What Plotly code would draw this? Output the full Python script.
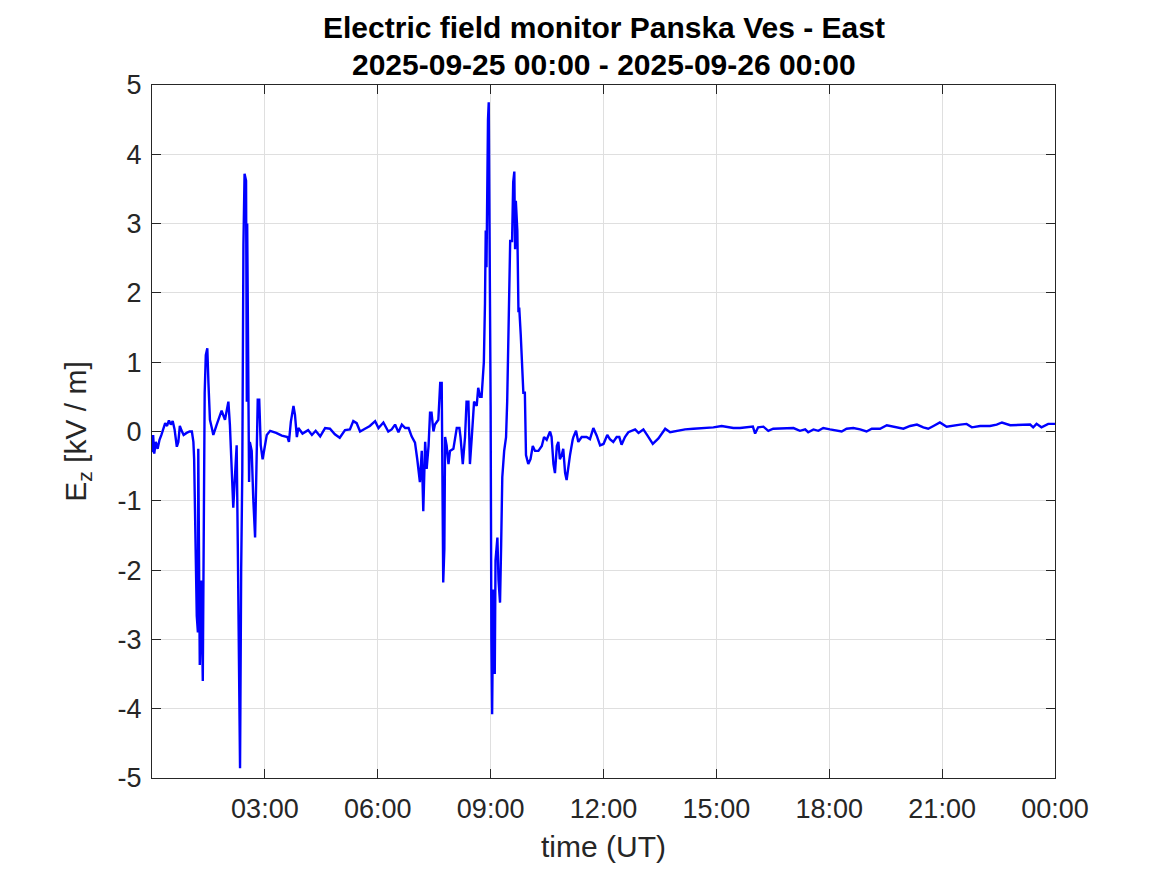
import pandas as pd
import plotly.graph_objects as go

# ---- data (hours since 2025-09-25 00:00 UT, Ez in kV/m) ----
hours = [
    0.00, 0.03, 0.06, 0.10, 0.15, 0.20, 0.25, 0.30, 0.35, 0.40, 0.45, 0.50, 0.55, 0.60,
    0.66, 0.70, 0.74, 0.78, 0.84, 0.92, 1.00, 1.06, 1.10, 1.12, 1.14, 1.16, 1.19, 1.22,
    1.23, 1.25, 1.27, 1.31, 1.35, 1.38, 1.40, 1.43, 1.47, 1.50, 1.54, 1.59, 1.63, 1.72,
    1.85, 1.94, 2.03, 2.07, 2.12, 2.16, 2.21, 2.25, 2.28, 2.30, 2.34, 2.37, 2.40, 2.43,
    2.46, 2.50, 2.52, 2.53, 2.56, 2.58, 2.60, 2.65, 2.69, 2.74, 2.78, 2.81, 2.85, 2.89,
    2.94, 2.98, 3.05, 3.14, 3.30, 3.45, 3.60, 3.64, 3.69, 3.76, 3.80, 3.85, 3.89, 4.00,
    4.15, 4.25, 4.35, 4.47, 4.60, 4.73, 4.86, 4.99, 5.13, 5.26, 5.35, 5.44, 5.53, 5.66,
    5.79, 5.93, 6.02, 6.15, 6.28, 6.37, 6.46, 6.55, 6.64, 6.73, 6.82, 6.90, 6.99, 7.05,
    7.10, 7.12, 7.17, 7.21, 7.26, 7.30, 7.35, 7.39, 7.43, 7.48, 7.52, 7.61, 7.66, 7.70,
    7.72, 7.74, 7.77, 7.79, 7.83, 7.88, 7.92, 8.01, 8.10, 8.17, 8.20, 8.26, 8.32, 8.36,
    8.41, 8.45, 8.50, 8.56, 8.63, 8.67, 8.72, 8.76, 8.79, 8.82, 8.85, 8.87, 8.89, 8.91,
    8.93, 8.95, 8.97, 8.99, 9.00, 9.02, 9.04, 9.07, 9.11, 9.13, 9.18, 9.21, 9.25, 9.28,
    9.31, 9.36, 9.41, 9.44, 9.47, 9.50, 9.52, 9.57, 9.60, 9.63, 9.65, 9.67, 9.71, 9.74,
    9.76, 9.80, 9.83, 9.87, 9.91, 9.94, 10.00, 10.06, 10.12, 10.18, 10.27, 10.36, 10.42,
    10.49, 10.58, 10.62, 10.67, 10.71, 10.76, 10.80, 10.84, 10.89, 10.93, 10.98, 11.02,
    11.07, 11.11, 11.18, 11.20, 11.27, 11.33, 11.42, 11.55, 11.64, 11.73, 11.82, 11.91,
    12.00, 12.10, 12.17, 12.26, 12.35, 12.42, 12.48, 12.57, 12.66, 12.75, 12.84, 12.93,
    13.06, 13.17, 13.31, 13.46, 13.64, 13.77, 13.95, 14.17, 14.39, 14.65, 14.92, 15.14,
    15.27, 15.45, 15.63, 15.81, 15.97, 16.03, 16.11, 16.25, 16.38, 16.51, 16.69, 16.87,
    17.05, 17.22, 17.36, 17.44, 17.58, 17.71, 17.84, 18.02, 18.20, 18.33, 18.46, 18.64,
    18.82, 18.99, 19.13, 19.35, 19.53, 19.75, 19.97, 20.15, 20.33, 20.50, 20.63, 20.77,
    20.94, 21.12, 21.30, 21.48, 21.65, 21.79, 22.01, 22.27, 22.45, 22.59, 22.81, 23.08,
    23.34, 23.42, 23.51, 23.64, 23.82, 24.00,
]
ez = [
    -0.30, -0.05, -0.32, -0.15, -0.25, -0.12, -0.05, 0.05, 0.12, 0.08, 0.16, 0.10, 0.15, 0.03,
    -0.22, -0.15, 0.08, 0.02, -0.05, -0.02, 0.00, 0.00, -0.15, -0.40, -0.85, -1.70, -2.66, -2.90,
    -0.25, -1.50, -3.37, -2.15, -3.60, -1.10, 0.56, 1.10, 1.20, 0.70, 0.17, 0.05, -0.05, 0.10,
    0.30, 0.17, 0.43, 0.10, -0.73, -1.10, -0.60, -0.20, -1.63, -2.90, -4.86, -2.00, -0.57, 2.69,
    3.72, 3.62, 0.43, 3.00, 0.70, -0.73, -0.15, -0.28, -0.95, -1.53, -0.40, 0.46, 0.46, -0.20,
    -0.40, -0.25, -0.05, 0.01, -0.02, -0.06, -0.08, -0.15, 0.14, 0.37, 0.24, -0.08, 0.05, -0.03,
    0.02, -0.05, 0.01, -0.07, 0.05, 0.04, -0.04, -0.09, 0.02, 0.03, 0.15, 0.12, 0.00, 0.04,
    0.08, 0.15, 0.05, 0.13, 0.00, 0.03, 0.10, -0.01, 0.10, 0.05, 0.05, -0.07, -0.16, -0.40,
    -0.60, -0.73, -0.28, -1.15, -0.15, -0.54, -0.21, 0.27, 0.27, 0.00, 0.10, 0.17, 0.70, 0.70,
    -0.73, -2.18, -1.70, -0.08, -0.20, -0.47, -0.28, -0.25, 0.05, 0.05, -0.08, -0.47, -0.08, 0.43,
    0.43, -0.47, -0.08, 0.43, 0.37, 0.63, 0.50, 0.50, 0.75, 1.00, 1.85, 2.90, 2.37, 3.80,
    4.50, 4.75, 3.00, 1.88, 0.37, -3.00, -4.08, -2.28, -3.50, -1.86, -1.53, -2.15, -2.47, -1.63,
    -0.66, -0.28, -0.08, 0.43, 1.20, 2.24, 2.75, 2.75, 3.60, 3.75, 2.63, 3.33, 2.90, 1.72,
    1.79, 1.40, 1.08, 0.56, 0.56, -0.34, -0.47, -0.40, -0.21, -0.28, -0.28, -0.21, -0.08,
    -0.12, 0.00, -0.08, -0.47, -0.60, -0.21, -0.15, -0.40, -0.34, -0.25, -0.60, -0.70,
    -0.47, -0.34, -0.12, -0.08, 0.01, -0.15, -0.08, -0.08, -0.11, 0.05, -0.06, -0.20,
    -0.18, -0.05, -0.11, -0.15, -0.08, -0.08, -0.19, -0.08, -0.01, 0.01, 0.03, -0.02,
    0.03, -0.06, -0.18, -0.10, 0.04, -0.01, 0.01, 0.03, 0.04, 0.05, 0.06, 0.08,
    0.07, 0.05, 0.05, 0.06, 0.07, -0.03, 0.06, 0.07, 0.01, 0.04, 0.04, 0.05,
    0.05, 0.01, 0.03, -0.01, 0.03, 0.01, 0.05, 0.03, 0.01, 0.00, 0.04, 0.05,
    0.03, 0.00, 0.04, 0.04, 0.09, 0.07, 0.04, 0.08, 0.10, 0.06, 0.04, 0.08,
    0.13, 0.07, 0.09, 0.10, 0.11, 0.06, 0.08, 0.08, 0.10, 0.13, 0.09, 0.09,
    0.10, 0.06, 0.11, 0.06, 0.11, 0.11,
]
assert len(hours) == len(ez)

start_time = "2025-09-25 00:00"
title_line1 = "Electric field monitor Panska Ves - East"
title_line2 = "2025-09-25 00:00 - 2025-09-26 00:00"
tick_hours = [3, 6, 9, 12, 15, 18, 21, 24]
y_ticks = [-5, -4, -3, -2, -1, 0, 1, 2, 3, 4, 5]
y_ticktext = [str(v) for v in y_ticks]

t0 = pd.Timestamp(start_time)
times = [t0 + pd.Timedelta(hours=h) for h in hours]
tickvals = [t0 + pd.Timedelta(hours=h) for h in tick_hours]
ticktext = [v.strftime("%H:%M") for v in tickvals]

FONT = "Liberation Sans, Arial, sans-serif"
AX = "#262626"

fig = go.Figure()
fig.add_trace(go.Scatter(x=times, y=ez, mode="lines",
                         line=dict(color="#0000ff", width=2.4), showlegend=False))

fig.update_layout(
    width=1167, height=875,
    paper_bgcolor="white", plot_bgcolor="white",
    margin=dict(l=144, r=120, t=77, b=105),
    font=dict(family=FONT, color=AX),
    annotations=[
        dict(text="<b>" + title_line1 + "</b>", xref="paper", yref="paper", x=0.5, y=1,
             xanchor="center", yanchor="middle", yshift=58, showarrow=False,
             font=dict(family=FONT, size=30, color="black")),
        dict(text="<b>" + title_line2 + "</b>", xref="paper", yref="paper", x=0.5, y=1,
             xanchor="center", yanchor="middle", yshift=21, showarrow=False,
             font=dict(family=FONT, size=30, color="black")),
    ],
)
fig.update_xaxes(
    type="date",
    range=[t0, t0 + pd.Timedelta(hours=24)],
    tickvals=tickvals, ticktext=ticktext,
    showgrid=True, gridcolor="#dfdfdf", gridwidth=1,
    showline=True, linecolor=AX, linewidth=1, mirror="ticks",
    ticks="inside", ticklen=9, tickcolor=AX, tickwidth=1,
    tickfont=dict(family=FONT, size=27, color=AX),
    ticklabelstandoff=7,
    title=dict(text="time (UT)", font=dict(family=FONT, size=30, color=AX), standoff=12),
    zeroline=False,
)
fig.update_yaxes(
    range=[-5, 5], tickvals=y_ticks, ticktext=y_ticktext,
    showgrid=True, gridcolor="#dfdfdf", gridwidth=1,
    showline=True, linecolor=AX, linewidth=1, mirror="ticks",
    ticks="inside", ticklen=9, tickcolor=AX, tickwidth=1,
    tickfont=dict(family=FONT, size=27, color=AX),
    ticklabelstandoff=4,
    title=dict(text="E<sub>z</sub> [kV / m]", font=dict(family=FONT, size=30, color=AX), standoff=22),
    zeroline=False,
)

fig.write_html("out.html")
